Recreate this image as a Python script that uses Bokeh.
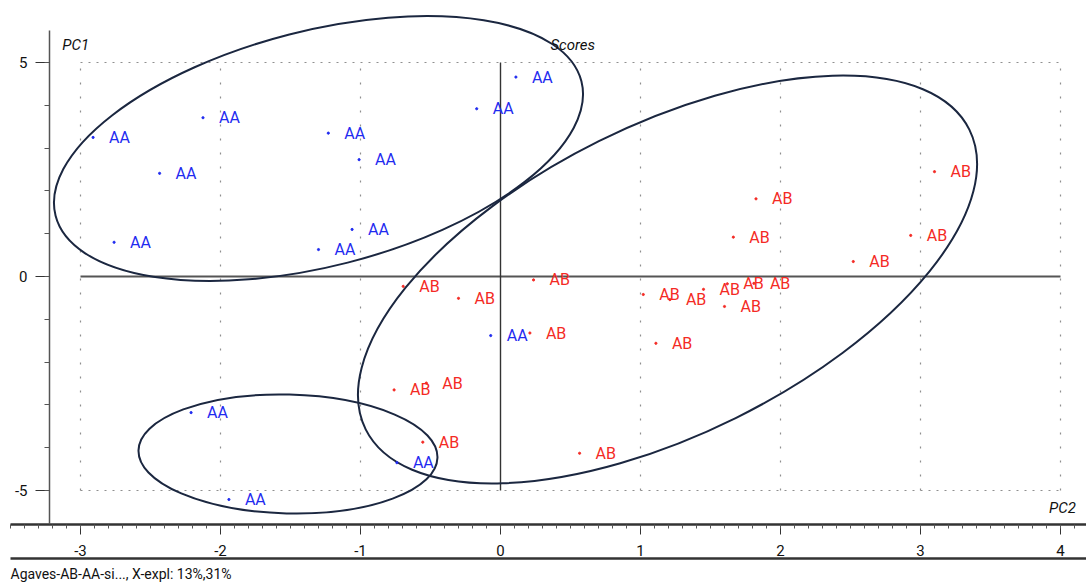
import numpy as np
from bokeh.plotting import figure
from bokeh.models import (Range1d, LinearAxis, FixedTicker, SingleIntervalTicker,
                          Label, Title, PrintfTickFormatter)
from bokeh.core.properties import value
from bokeh.embed import file_html
from bokeh.resources import INLINE

# ---------------- data ----------------
aa_x = [-2.91, -2.125, -2.435, -2.76, -1.23, -1.01, -1.06, -1.30, -0.17, 0.11,
        -0.07, -2.21, -1.94, -0.74]
aa_y = [3.25, 3.71, 2.41, 0.80, 3.35, 2.73, 1.10, 0.63, 3.92, 4.66,
        -1.38, -3.18, -5.21, -4.35]

ab_x = [-0.695, -0.30, 0.236, 0.21, 1.02, 1.21, 1.45, 1.62, 1.60, 1.81,
        1.11, 1.825, 1.663, 2.52, 2.93, 3.10, -0.76, -0.53, -0.555, 0.565]
ab_y = [-0.23, -0.51, -0.08, -1.32, -0.42, -0.54, -0.30, -0.17, -0.70, -0.16,
        -1.56, 1.815, 0.92, 0.35, 0.96, 2.45, -2.65, -2.49, -3.87, -4.13]

x_ticks = [-3, -2, -1, 0, 1, 2, 3, 4]
y_ticks = [-5, 0, 5]

# group ellipses: centre, full width (x units), full height (y units), angle (deg)
ell_x = [-1.30, 1.193, -1.518]
ell_y = [2.99, -0.07, -4.147]
ell_w = [3.877, 4.814, 2.136]
ell_h = [5.505, 7.215, 2.776]
ell_angle = [14.35, 26.4, -1.4]

footer = "Agaves-AB-AA-si..., X-expl: 13%,31%"

FONT = "Roboto"
BLUE = "#1f2bf0"
RED = "#f42a24"

X0, X1 = -3.5, 4.1857
Y0, Y1 = -5.794, 6.262

p = figure(frame_width=1076, frame_height=516,
           x_range=Range1d(X0, X1), y_range=Range1d(Y0, Y1),
           output_backend="svg", toolbar_location=None,
           x_axis_location=None, y_axis_location=None,
           min_border_left=10, min_border_right=0, min_border_top=8, min_border_bottom=0)
p.outline_line_color = None
p.xgrid.visible = False
p.ygrid.visible = False
p.background_fill_color = "white"

# dotted grid (only within the tick extents)
gx = [t for t in x_ticks if t != 0]
p.segment(x0=gx, x1=gx, y0=[min(y_ticks)] * len(gx), y1=[max(y_ticks)] * len(gx),
          line_color="#8f8f8f", line_width=1.2, line_dash="2 12")
gy = [t for t in y_ticks if t != 0]
p.segment(x0=[min(x_ticks)] * len(gy), x1=[max(x_ticks)] * len(gy), y0=gy, y1=gy,
          line_color="#8f8f8f", line_width=1.2, line_dash="2 6")

# zero lines
p.segment(x0=[min(x_ticks)], x1=[max(x_ticks)], y0=[0], y1=[0],
          line_color="#555555", line_width=2)
p.segment(x0=[0], x1=[0], y0=[min(y_ticks)], y1=[max(y_ticks)],
          line_color="#333333", line_width=1.4)

# ellipses
p.ellipse(x=ell_x, y=ell_y, width=ell_w, height=ell_h, angle=ell_angle,
          angle_units="deg", fill_color=None, line_color="#1b2740", line_width=2)

# points + labels
p.scatter(aa_x, aa_y, size=2.2, color=BLUE)
p.scatter(ab_x, ab_y, size=2.2, color=RED)
p.text(x=aa_x, y=aa_y, text=["AA"] * len(aa_x), x_offset=16,
       text_baseline="middle", text_align="left", text_color=BLUE,
       text_font=value(FONT), text_font_size="16px")
p.text(x=ab_x, y=ab_y, text=["AB"] * len(ab_x), x_offset=16,
       text_baseline="middle", text_align="left", text_color=RED,
       text_font=value(FONT), text_font_size="16px")

# corner labels
for txt, lx, ly, al in [("PC1", -3.13, 5.40, "left"), ("Scores", 0.357, 5.40, "left"),
                        ("PC2", 4.11, -5.42, "right")]:
    p.add_layout(Label(x=lx, y=ly, text=txt, text_font=FONT, text_font_size="15px",
                       text_font_style="italic", text_color="#111111",
                       text_baseline="middle", text_align=al))

# x axis
xaxis = LinearAxis(ticker=SingleIntervalTicker(interval=1, num_minor_ticks=10),
                   formatter=PrintfTickFormatter(format="%d"))
xaxis.axis_line_color = "#333333"
xaxis.axis_line_width = 2.5
xaxis.major_tick_in = 0
xaxis.major_tick_out = 10
xaxis.minor_tick_in = 0
xaxis.minor_tick_out = 4
xaxis.major_tick_line_color = "#333333"
xaxis.minor_tick_line_color = "#555555"
xaxis.major_label_standoff = 10
xaxis.major_label_text_font = FONT
xaxis.major_label_text_font_size = "15px"
xaxis.major_label_text_color = "#111111"
p.add_layout(xaxis, "below")

# footer separator line
sep = LinearAxis(ticker=FixedTicker(ticks=[]))
sep.axis_line_color = "#333333"
sep.axis_line_width = 2.5
sep.major_tick_line_color = None
sep.minor_tick_line_color = None
sep.major_label_text_font_size = "0px"
p.add_layout(sep, "below")

p.add_layout(Title(text=footer, align="left", text_font=FONT, text_font_size="14px",
                   text_font_style="normal", text_color="#111111"), "below")

# y axis
yaxis = LinearAxis(ticker=SingleIntervalTicker(interval=5, num_minor_ticks=5),
                   formatter=PrintfTickFormatter(format="%d"))
yaxis.fixed_location = -3.2214
yaxis.bounds = (Y0, 5.75)
yaxis.axis_line_color = "#555555"
yaxis.axis_line_width = 1.5
yaxis.major_tick_in = 0
yaxis.major_tick_out = 14
yaxis.minor_tick_in = 0
yaxis.minor_tick_out = 5
yaxis.major_tick_line_color = "#333333"
yaxis.minor_tick_line_color = "#555555"
yaxis.major_label_standoff = 8
yaxis.major_label_text_font = FONT
yaxis.major_label_text_font_size = "15px"
yaxis.major_label_text_color = "#111111"
p.add_layout(yaxis, "left")

open("out.html", "w").write(file_html(p, INLINE))
